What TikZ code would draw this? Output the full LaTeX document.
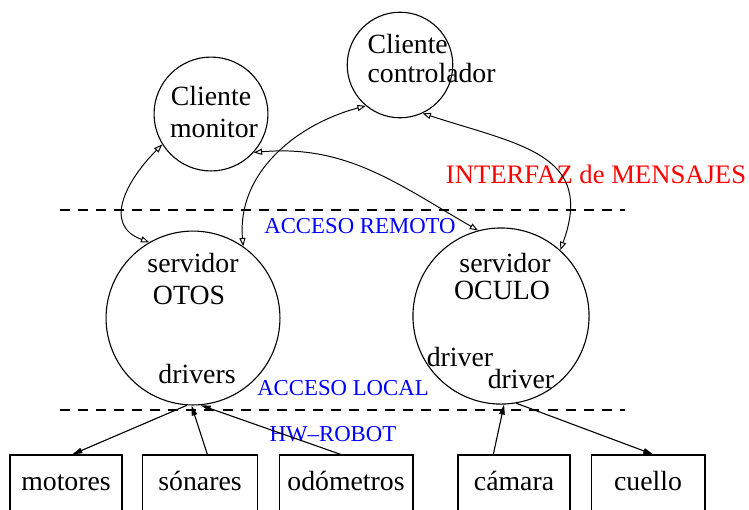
\documentclass[tikz,border=0pt]{standalone}
\usepackage{fontspec}
\setmainfont{Liberation Serif}
\usetikzlibrary{arrows.meta}

\begin{document}
\begin{tikzpicture}[x=0.36pt,y=-0.36pt,
circ/.style={draw,circle,inner sep=0pt},
box/.style={draw,rectangle,inner sep=0pt,minimum height=20.9pt,text height=0.7em,text depth=0.2em},
txt/.style={anchor=base,inner sep=0pt},
zona/.style={anchor=base,inner sep=0pt,text=blue,font=\fontsize{8.2}{10}\selectfont},
limite/.style={line width=0.9pt,dash pattern=on 3.6pt off 2.9pt},
msg/.style={{Triangle[open,length=3pt,width=2.2pt]}-{Triangle[open,length=3pt,width=2.2pt]},line width=0.35pt},
hw/.style={-{Triangle[length=3.6pt,width=2pt]},line width=0.4pt}]
\useasboundingbox (0,0) rectangle (749,509);

% clientes
\node (mon) [circ,minimum size=41pt] at (211,114) {};
\node [txt] at (211,105) {Cliente};
\node [txt] at (214,137) {monitor};
\node (ctrl) [circ,minimum size=38pt] at (400,65) {};
\node [txt,anchor=base west] at (367,53) {Cliente};
\node [txt,anchor=base west] at (367,82) {controlador};

% servidores
\node (otos) [circ,minimum size=62.6pt] at (193,318) {};
\node [txt] at (193,272) {servidor};
\node [txt] at (189,304) {OTOS};
\node [txt] at (197,383) {drivers};
\node (oculo) [circ,minimum size=63.4pt] at (501,316) {};
\node [txt] at (505,272) {servidor};
\node [txt] at (502,299) {OCULO};
\node [txt] at (460,366) {driver};
\node [txt] at (521,388) {driver};

% hardware
\node (motores) [box,minimum width=40.3pt] at (66,484) {motores};
\node (sonares) [box,minimum width=41.4pt] at (200,484) {sónares};
\node (odometros) [box,minimum width=48.2pt] at (346,484) {odómetros};
\node (camara) [box,minimum width=40.3pt] at (514,484) {cámara};
\node (cuello) [box,minimum width=41pt] at (648,484) {cuello};

% niveles
\coordinate (r1) at (60,210);
\coordinate (r2) at (625,210);
\coordinate (l1) at (60,410);
\coordinate (l2) at (625,410);
\draw [limite] (r1) -- (r2);
\draw [limite] (l1) -- (l2);
\node [txt,text=red,font=\fontsize{9.6}{11}\selectfont] at (596,183) {INTERFAZ de MENSAJES};
\node [zona] at (360,233) {ACCESO REMOTO};
\node [zona] at (343,395) {ACCESO LOCAL};
\node [zona] at (333,441) {HW--ROBOT};

\draw [msg] (mon.212) to[out=225,in=160,looseness=1.3] (otos.120);
\draw [msg] (ctrl.230) to[out=195,in=95] (otos.55);
\draw [msg] (mon.-42) to[out=5,in=150] (oculo.105);
\draw [msg] (ctrl.-65) to[out=-18,in=70,looseness=1.35] (oculo.48);

\draw [hw] (otos.-94) -- (motores.78);
\draw [hw] (sonares.76) -- (otos.-91);
\draw [hw] (odometros.100) -- (otos.-85);
\draw [hw] (camara.125) -- (oculo.-88);
\draw [hw] (oculo.-80) -- (cuello.80);
\end{tikzpicture}
\end{document}
